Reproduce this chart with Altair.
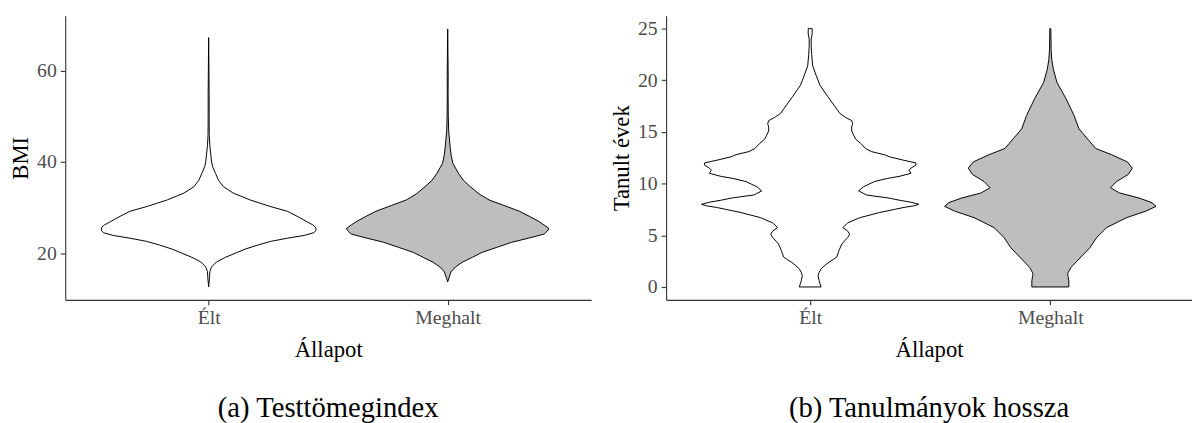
import altair as alt
import pandas as pd

FONT = "Liberation Serif"
groups = ["Élt", "Meghalt"]
group_pos = [1, 2]
fills = ["white", "#BEBEBE"]

# ---- BMI violins: (value, half-width in px of 243 px per category unit)
bmi_elt_y = [12.6, 14.5, 16.0, 17.0, 18.1, 19.1, 20.0, 20.9, 21.8, 22.6, 23.3, 23.9, 24.5, 25.0, 25.6,
             26.2, 26.9, 27.4, 28.1, 29.2, 30.3, 31.0, 31.7, 32.5, 33.2, 34.6, 36.0, 37.5, 39.0, 40.0,
             42.0, 43.6, 46.0, 50.0, 55.0, 60.0, 67.3]
bmi_elt_w = [0, 0.8, 1.2, 3, 8, 17, 27, 37, 50, 63, 80, 97, 107, 109, 109,
             106, 100, 96, 90, 80, 62, 52, 42, 33, 25, 15, 10, 7, 4, 3,
             2, 1.2, 0.6, 0.5, 0.5, 0.3, 0]
bmi_meg_y = [13.7, 14.5, 15.9, 17.0, 18.05, 19.1, 20.2, 21.3, 22.4, 23.3, 24.2, 24.8, 25.4, 26.2, 27.05,
             28.1, 29.2, 30.5, 31.7, 33.0, 34.6, 36.0, 37.5, 39.7, 41.5, 43.3, 46.9, 50.0, 55.0, 59.0,
             63.0, 69.2]
bmi_meg_w = [0, 1.2, 3.3, 8, 15, 25, 35, 50, 65, 82, 98, 101, 103, 98, 92,
             83, 73, 57, 42, 32, 23, 16, 11, 5.3, 3.5, 2.5, 1, 0.6, 0.4, 0.5,
             0.3, 0]

# ---- Education years violins
edu_elt_y = [0, 0.3, 0.6, 1.1, 1.4, 1.75, 2.1, 2.4, 2.7, 2.9, 3.2, 3.5, 4.15, 4.8, 5.1, 5.4, 5.75, 6.2,
             6.7, 7.2, 7.5, 7.7, 7.85, 8.0, 8.2, 8.4, 8.6, 8.9, 9.3, 9.7, 10.2, 10.5, 10.7, 11.0, 11.3,
             11.5, 11.8, 12.0, 12.3, 12.6, 12.8, 13.1, 13.4, 13.9, 14.3, 14.7, 15.1, 15.5, 15.8, 16.1,
             16.4, 16.8, 17.6, 18.4, 19.5, 20.4, 21.4, 22.5, 23.3, 24.0, 24.5, 25.0]
edu_elt_w = [11, 10, 9, 8, 9, 11, 15, 19, 24, 27, 28, 29, 32, 38, 40, 38, 33, 38,
             50, 70, 85, 95, 105, 110, 102, 90, 80, 57, 49, 54, 65, 78, 90, 102, 100,
             102, 107, 107, 93, 80, 75, 62, 56, 51, 46, 44, 42, 42, 43, 42,
             36, 30, 24, 18, 10, 6.3, 2.5, 1.5, 1, 1, 2, 2]
edu_meg_y = [0, 0.6, 1.0, 1.3, 1.9, 2.9, 3.8, 4.8, 5.75, 6.7, 7.35, 7.8, 8.15, 8.6, 9.1, 9.6, 10.2,
             10.9, 11.5, 12.1, 12.8, 13.4, 14.4, 15.3, 16.6, 18.2, 19.8, 21.1, 22.0, 23.0, 25.0]
edu_meg_w = [18.7, 18.7, 18, 17.5, 21, 31, 40, 47, 57, 77, 97, 107, 103, 90, 70, 61, 67,
             79, 83, 78, 62, 46, 37, 29, 24, 16, 6.7, 3, 1.5, 0.8, 0.5]

PX_PER_UNIT = 243.0


def frame(ys, ws, g, pos):
    return pd.DataFrame({
        "v": ys,
        "lo": [pos - w / PX_PER_UNIT for w in ws],
        "hi": [pos + w / PX_PER_UNIT for w in ws],
        "g": g,
    })


bmi_df = pd.concat([frame(bmi_elt_y, bmi_elt_w, groups[0], group_pos[0]),
                    frame(bmi_meg_y, bmi_meg_w, groups[1], group_pos[1])])
edu_df = pd.concat([frame(edu_elt_y, edu_elt_w, groups[0], group_pos[0]),
                    frame(edu_meg_y, edu_meg_w, groups[1], group_pos[1])])

label_expr = "datum.value == 1 ? 'Élt' : 'Meghalt'"


def panel(df, ydomain, yvalues, ytitle, xdomain, width, caption):
    x_axis = alt.Axis(values=group_pos, labelExpr=label_expr, title="Állapot")
    y_axis = alt.Axis(values=yvalues, title=ytitle)
    return alt.Chart(df).mark_area(orient="horizontal", stroke="black", strokeWidth=1,
                                   strokeJoin="round").encode(
        y=alt.Y("v:Q", scale=alt.Scale(domain=ydomain, nice=False, zero=False), axis=y_axis),
        x=alt.X("lo:Q", scale=alt.Scale(domain=xdomain, nice=False, zero=False), axis=x_axis),
        x2="hi:Q",
        fill=alt.Fill("g:N", scale=alt.Scale(domain=groups, range=fills), legend=None),
        detail="g:N",
    ).properties(
        width=width, height=288,
        title=alt.TitleParams(caption, orient="bottom", fontSize=29, font=FONT,
                              fontWeight="normal", color="black", offset=34),
    )


left = panel(bmi_df, [9.77, 72.1], [20, 40, 60], "BMI", [0.4, 2.6], 533, "(a) Testtömegindex")
right = panel(edu_df, [-1.25, 26.25], [0, 5, 10, 15, 20, 25], "Tanult évek", [0.4, 2.59], 533,
              "(b) Tanulmányok hossza")

chart = alt.hconcat(left, right, spacing=20).properties(
    padding={"left": 2, "top": 5, "right": 0, "bottom": 0}
).configure_view(stroke=None).configure_axis(
    grid=False,
    domainColor="#333333", domainWidth=1.1,
    tickColor="#333333", tickSize=5, tickWidth=1.1,
    labelFont=FONT, labelFontSize=20, labelColor="#4D4D4D",
    titleFont=FONT, titleFontSize=23, titleFontWeight="normal", titleColor="black",
).configure_axisX(labelPadding=3, titlePadding=11).configure_axisY(labelPadding=4, titlePadding=4)

chart.save("out.html", embed_options={"renderer": "svg", "actions": False})
